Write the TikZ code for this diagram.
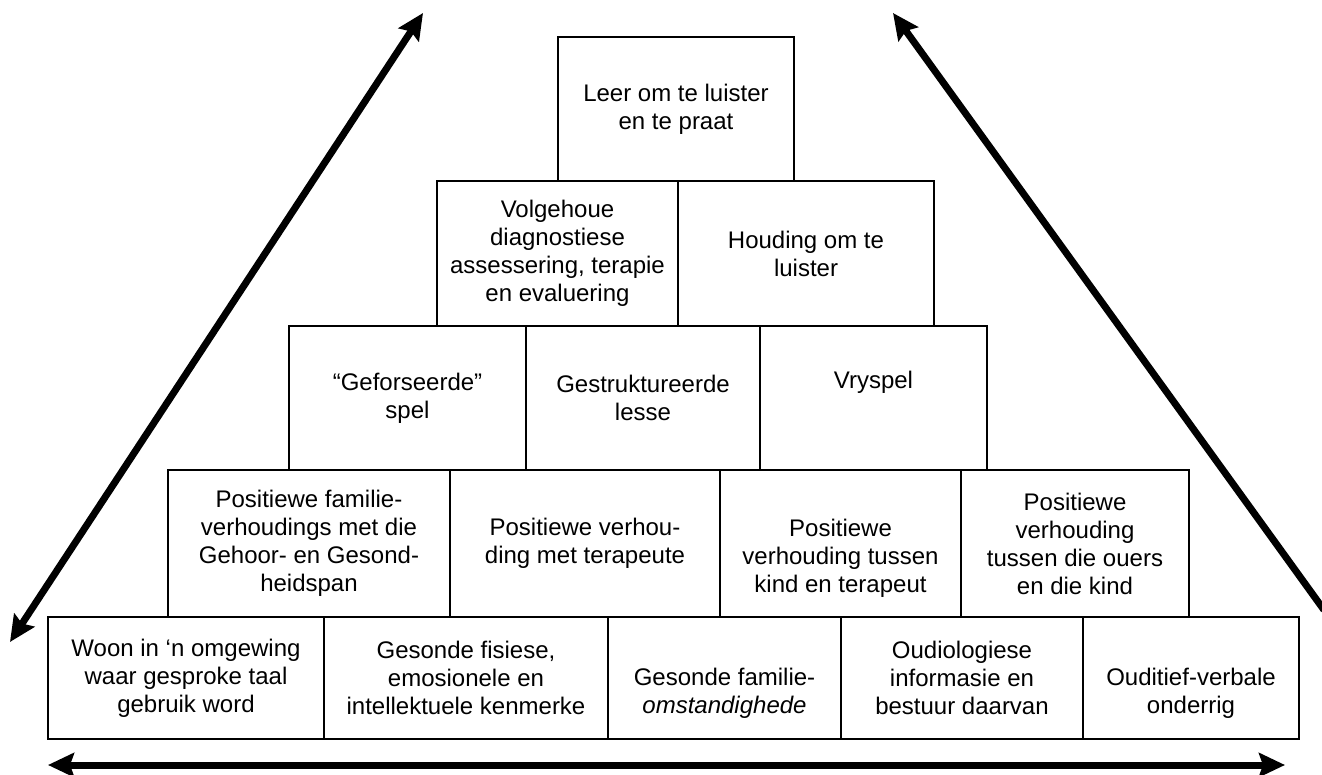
\documentclass[tikz,border=0pt]{standalone}
\usepackage{fontspec}
\setmainfont{Liberation Sans}
\usetikzlibrary{arrows.meta}

\begin{document}
\begin{tikzpicture}[x=1pt,y=-1pt,
    brick/.style={draw,line width=1.8pt,anchor=north west,align=center,inner sep=1pt,outer sep=0pt,font=\fontsize{24}{28}\selectfont},
    bigtip/.tip={Stealth[length=26pt,width=24pt,inset=4pt]},
    bigarrow/.style={line width=7pt,bigtip-bigtip}]

\def\TOPH{144pt}
\def\ROWH{145pt}
\def\BASEH{122pt}
	\useasboundingbox (0,0) rectangle (1322,775);

	\node[brick,minimum width=236pt,minimum height=\TOPH] (leer) at (558,37) {Leer om te luister\\en te praat};

	\node[brick,minimum width=241pt,minimum height=\ROWH] (volgehoue) at (437,181) {Volgehoue\\diagnostiese\\assessering, terapie\\en evaluering};
	\node[brick,minimum width=256pt,minimum height=\ROWH] (houding) at (678,181) {Houding om te\\luister};

	\node[brick,minimum width=237pt,minimum height=\TOPH] (geforseerd) at (289,326) {“Geforseerde”\\spel};
	\node[brick,minimum width=234pt,minimum height=\TOPH] (lesse) at (526,326) {Gestruktureerde\\lesse};
	\node[brick,minimum width=227pt,minimum height=\TOPH] (vryspel) at (760,326) {Vryspel\\\strut};

	\node[brick,minimum width=282pt,minimum height=147pt] (familie) at (168,470) {Positiewe familie-\\verhoudings met die\\Gehoor- en Gesond-\\heidspan};
	\node[brick,minimum width=270pt,minimum height=147pt] (terapeute) at (450,470) {Positiewe verhou-\\ding met terapeute};
	\node[brick,minimum width=241pt,minimum height=147pt] (kind) at (720,470) {\strut\\Positiewe\\verhouding tussen\\kind en terapeut};
	\node[brick,minimum width=228pt,minimum height=147pt] (ouers) at (961,470) {Positiewe\\verhouding\\tussen die ouers\\en die kind};

	\node[brick,minimum width=276pt,minimum height=\BASEH] (woon) at (48,617) {Woon in ‘n omgewing\\waar gesproke taal\\gebruik word};
	\node[brick,minimum width=284pt,minimum height=\BASEH] (fisies) at (324,617) {Gesonde fisiese,\\emosionele en\\intellektuele kenmerke};
	\node[brick,minimum width=233pt,minimum height=\BASEH] (omstandig) at (608,617) {\strut\\Gesonde familie-\\\textit{omstandighede}};
	\node[brick,minimum width=242pt,minimum height=\BASEH] (oudio) at (841,617) {Oudiologiese\\informasie en\\bestuur daarvan};
	\node[brick,minimum width=216pt,minimum height=\BASEH] (onderrig) at (1083,617) {\strut\\Ouditief-verbale\\onderrig};

	\coordinate (lefttop) at (423,13);
	\coordinate (leftbot) at (10,642);
	\coordinate (righttop) at (893,13);
	\coordinate (rightbot) at (1324,610);
	\coordinate (baseleft) at (48,765);
	\coordinate (baseright) at (1285,765);

	\draw[bigarrow] (leftbot) -- (lefttop);
	\draw[line width=7pt,-bigtip] (rightbot) -- (righttop);
	\draw[bigarrow] (baseleft) -- (baseright);

\end{tikzpicture}
\end{document}
